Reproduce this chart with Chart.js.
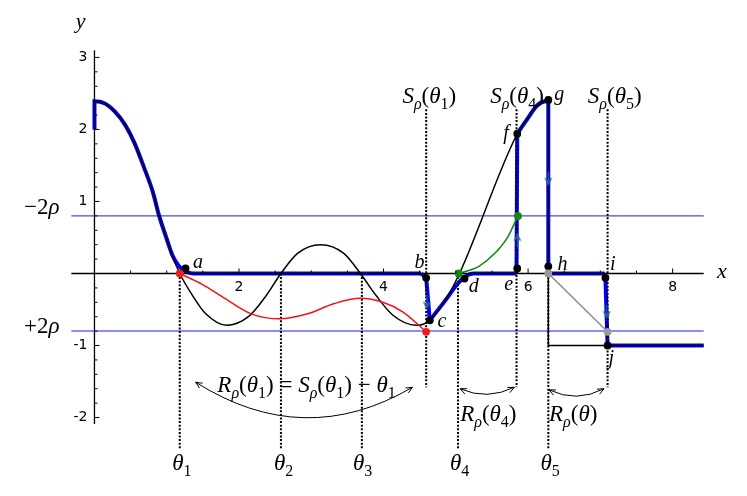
<!DOCTYPE html>
<html>
<head>
<meta charset="utf-8">
<script src="https://cdn.jsdelivr.net/npm/chart.js@4.4.0/dist/chart.umd.min.js"></script>
<style>
  html, body { margin: 0; padding: 0; background: #fff; }
  #wrap { width: 747px; height: 496px; }
</style>
</head>
<body>
<div id="wrap"><canvas id="chart"></canvas></div>
<script>
// values, as [x, y]
const mainCurve = [[0, 2.40], [0.145, 2.36], [0.28, 2.25], [0.42, 2.07], [0.55, 1.82], [0.69, 1.46],
  [0.805, 1.14], [0.895, 0.80], [0.99, 0.51], [1.08, 0.24], [1.18, 0], [1.36, -0.31], [1.54, -0.56],
  [1.83, -0.72], [2.13, -0.60], [2.36, -0.33], [2.58, 0], [2.81, 0.28], [3.13, 0.40], [3.45, 0.28],
  [3.68, 0], [3.90, -0.31], [4.13, -0.58], [4.45, -0.72], [4.64, -0.65], [4.85, -0.38], [5.05, 0],
  [5.85, 1.94], [6.0, 2.16], [6.13, 2.34], [6.28, 2.41]];
const mainTail = [[6.28, 2.41], [6.28, -1.0], [8.43, -1.0]];
const redCurve = [[1.18, 0], [1.49, -0.15], [1.81, -0.35], [2.17, -0.56], [2.56, -0.63], [2.95, -0.56],
  [3.31, -0.42], [3.68, -0.345], [3.99, -0.40], [4.27, -0.535], [4.58, -0.80]];
const greenCurve = [[5.04, 0], [5.32, 0.10], [5.54, 0.28], [5.72, 0.51], [5.86, 0.80]];
const greyLine = [[6.28, 0], [7.10, -0.81]];

// the thick blue path, smooth and straight pieces
const blueStart = [[0, 2.0], [0, 2.39], [0.145, 2.36], [0.28, 2.25], [0.42, 2.07], [0.55, 1.82], [0.69, 1.46],
  [0.805, 1.14], [0.895, 0.80], [0.99, 0.51], [1.08, 0.25], [1.17, 0.10], [1.26, 0.03], [1.36, 0], [4.52, 0]];
const blueDrop = [[4.52, 0], [4.59, -0.06], [4.64, -0.65]];
const blueMid = [[4.64, -0.65], [4.85, -0.38], [5.02, -0.15], [5.12, -0.05], [5.25, 0], [5.84, 0]];
const blueRise = [[5.84, 0], [5.85, 1.94]];
const blueTop = [[5.85, 1.94], [6.0, 2.16], [6.13, 2.34], [6.28, 2.41]];
const blueEnd = [[6.28, 2.41], [6.28, 0], [7.04, 0], [7.07, -0.06], [7.10, -1.0], [8.43, -1.0]];

const rhoLevels = [0.8, -0.8];
const rhoNames = ['\u22122', '+2'];
const thetaX = [1.18, 2.58, 3.70, 5.03, 6.28];
const thetaNames = ['1', '2', '3', '4', '5'];
const sRhoX = [4.59, 5.84, 7.10];
const sRhoNames = ['1', '4', '5'];

const blackDots = [[1.26, 0.07], [4.59, -0.06], [4.64, -0.65], [5.12, -0.07], [5.85, 0.07], [5.85, 1.94],
  [6.28, 2.41], [6.28, 0.10], [7.07, -0.06], [7.10, -1.0]];
const dotNames = ['a', 'b', 'c', 'd', 'e', 'f', 'g', 'h', 'i', 'j'];
const redDots = [[1.18, 0], [4.59, -0.81]];
const greenDots = [[5.04, 0], [5.86, 0.80]];
const greyDots = [[6.28, 0], [7.10, -0.81]];
const arrowsDown = [[4.60, -0.40], [6.28, 1.32], [7.09, -0.53]];
const arrowsUp = [[5.85, 0.46]];

const xTickLabels = [2, 4, 6, 8];
const yTickLabels = [-2, -1, 1, 2, 3];

// view and axis extents
const X_VIEW = [-1.238, 8.960];
const Y_VIEW = [-3.020, 3.728];
const AXIS_X = [-0.32, 8.43];
const AXIS_Y = [-2.09, 3.1];
const THETA_BOTTOM = -2.43;
const S_TOP = 2.28, S_BOTTOM = -1.58;

const SERIF = '"Liberation Serif", "DejaVu Serif", serif';
const ARROW_BLUE = '#245f8c';
const MATH_SIZE = 23;

const xy = pts => pts.map(([x, y]) => ({x, y}));

function verticals(xs, top, bottom) {
  const out = [];
  xs.forEach(v => { out.push({x: v, y: top}, {x: v, y: bottom}, {x: v, y: null}); });
  return out;
}

function makeArrow(color) {
  const c = document.createElement('canvas');
  c.width = 9; c.height = 18;
  const g = c.getContext('2d');
  g.fillStyle = color;
  g.beginPath();
  g.moveTo(4.5, 1); g.lineTo(8.5, 10); g.lineTo(4.5, 7.5); g.lineTo(0.5, 10);
  g.closePath(); g.fill();
  g.fillRect(3.8, 7, 1.4, 9);
  return c;
}
const arrowImg = makeArrow(ARROW_BLUE);

function line(data, color, width, order, extra) {
  return Object.assign({
    data: data, showLine: true, borderColor: color, borderWidth: width,
    pointRadius: 0, fill: false, tension: 0, order: order, clip: false, spanGaps: false
  }, extra || {});
}
function dots(data, color, order) {
  return { data: xy(data), showLine: false, pointRadius: 3.9, pointBackgroundColor: color,
    pointBorderWidth: 0, order: order, clip: false };
}
const smooth = { cubicInterpolationMode: 'monotone' };

const datasets = [
  line([{x: AXIS_X[0], y: rhoLevels[0]}, {x: AXIS_X[1], y: rhoLevels[0]}], '#4b4be8', 1.2, 9),
  line([{x: AXIS_X[0], y: rhoLevels[1]}, {x: AXIS_X[1], y: rhoLevels[1]}], '#8c8cff', 2, 9),
  line(xy(blueStart), '#0000ff', 4, 7, smooth),
  line(xy(blueDrop), '#0000ff', 4, 7),
  line(xy(blueMid), '#0000ff', 4, 7, smooth),
  line(xy(blueRise), '#0000ff', 4, 7),
  line(xy(blueTop), '#0000ff', 4, 7, smooth),
  line(xy(blueEnd), '#0000ff', 4, 7),
  line(verticals(thetaX, 0, THETA_BOTTOM), '#000', 2, 6, {borderDash: [2, 1.6]}),
  line(verticals(sRhoX, S_TOP, S_BOTTOM), '#000', 2, 6, {borderDash: [2, 1.6]}),
  line(xy(mainCurve), '#000', 1.5, 5, smooth),
  line(xy(mainTail), '#000', 1.5, 5),
  line(xy(redCurve), '#f01414', 1.5, 4, smooth),
  line(xy(greenCurve), '#0c880c', 1.5, 4, smooth),
  line(xy(greyLine), '#8c8c8c', 1.5, 4),
  line([{x: AXIS_X[0], y: 0}, {x: AXIS_X[1], y: 0}, {x: 0, y: null}, {x: 0, y: AXIS_Y[0]}, {x: 0, y: AXIS_Y[1]}],
    '#000', 1.3, 3),
  { data: xy(arrowsDown), showLine: false, pointStyle: arrowImg, pointRotation: 180, order: 2, clip: false },
  { data: xy(arrowsUp), showLine: false, pointStyle: arrowImg, pointRotation: 0, order: 2, clip: false },
  dots(redDots, '#ee1c1c', 1),
  dots(greenDots, '#128a12', 1),
  dots(greyDots, '#9a9a9a', 1),
  dots(blackDots, '#000', 1)
];

// text drawn in pieces: i italic, r roman, s.. subscript
function partFont(style, size) {
  const sub = style[0] === 's';
  const it = style[style.length - 1] === 'i';
  return (it ? 'italic ' : '') + (sub ? Math.round(size * 0.68) : size) + 'px ' + SERIF;
}
function mathWidth(ctx, parts, size) {
  let w = 0;
  parts.forEach(([t, s]) => { ctx.font = partFont(s, size); w += ctx.measureText(t).width; });
  return w;
}
function drawMath(ctx, parts, x, y, size, align) {
  let cx = x;
  if (align === 'center') cx = x - mathWidth(ctx, parts, size) / 2;
  ctx.textAlign = 'left';
  ctx.textBaseline = 'alphabetic';
  parts.forEach(([t, s]) => {
    ctx.font = partFont(s, size);
    ctx.fillText(t, cx, y + (s[0] === 's' ? size * 0.25 : 0));
    cx += ctx.measureText(t).width;
  });
}
const sLabel = n => [['S', 'i'], ['\u03c1', 'si'], ['(', 'r'], ['\u03b8', 'i'], [n, 'sr'], [')', 'r']];
const rLabel = n => [['R', 'i'], ['\u03c1', 'si'], ['(', 'r'], ['\u03b8', 'i'], [n, 'sr'], [')', 'r']];

// where the annotation texts sit, in data units (left/centre, baseline)
const dotLabelPos = [[1.365, 0.078], [4.427, 0.078], [4.745, -0.739], [5.178, -0.263], [5.670, -0.231],
  [5.656, 1.864], [6.362, 2.408], [6.407, 0.045], [7.135, 0.045], [7.113, -1.252]];
const thetaLabelX = [1.075, 2.485, 3.577, 4.920, 6.171];
const sLabelX = [4.633, 5.847, 7.199];
const arcs = [
  [[1.40, -1.51], [2.90, -2.46], [4.40, -1.58]],
  [[5.06, -1.60], [5.43, -1.765], [5.81, -1.58]],
  [[6.29, -1.615], [6.67, -1.80], [7.05, -1.60]]
];

function arrowHead(ctx, tip, from) {
  const a = Math.atan2(tip[1] - from[1], tip[0] - from[0]);
  const L = 7, s = 0.42;
  ctx.beginPath();
  ctx.moveTo(tip[0] - L * Math.cos(a - s), tip[1] - L * Math.sin(a - s));
  ctx.lineTo(tip[0], tip[1]);
  ctx.lineTo(tip[0] - L * Math.cos(a + s), tip[1] - L * Math.sin(a + s));
  ctx.stroke();
}

const notes = {
  id: 'notes',
  afterDatasetsDraw(chart) {
    const ctx = chart.ctx;
    const sx = chart.scales.x, sy = chart.scales.y;
    const px = v => sx.getPixelForValue(v), py = v => sy.getPixelForValue(v);
    const x0 = px(0), y0 = py(0);
    ctx.save();
    ctx.strokeStyle = '#000';
    ctx.fillStyle = '#000';
    ctx.lineWidth = 1;

    // x ticks every 0.5 pointing up, y ticks every 0.2 pointing right
    ctx.beginPath();
    for (let k = 1; k * 0.5 < AXIS_X[1]; k++) {
      const len = k % 4 === 0 ? 5 : 3;
      ctx.moveTo(px(k * 0.5), y0); ctx.lineTo(px(k * 0.5), y0 - len);
    }
    for (let k = -10; k <= 15; k++) {
      if (k === 0) continue;
      const len = k % 5 === 0 ? 5 : 3;
      ctx.moveTo(x0, py(k * 0.2)); ctx.lineTo(x0 + len, py(k * 0.2));
    }
    ctx.stroke();

    ctx.font = '14px "DejaVu Sans", sans-serif';
    ctx.textBaseline = 'middle';
    ctx.textAlign = 'center';
    xTickLabels.forEach(v => ctx.fillText(String(v), px(v), y0 + 13.5));
    ctx.textAlign = 'right';
    yTickLabels.forEach(v => ctx.fillText(String(v), x0 - 7, py(v)));

    // axis names and rho levels
    drawMath(ctx, [['x', 'i']], px(8.614), py(-0.059), 22);
    drawMath(ctx, [['y', 'i']], px(-0.259), py(3.415), 22);
    rhoNames.forEach((n, i) => {
      drawMath(ctx, [[n, 'r'], ['\u03c1', 'i']], px(-0.975), py(rhoLevels[i] + 0.023 * (i === 0 ? 1 : -1)), MATH_SIZE);
    });

    // point letters
    dotNames.forEach((n, i) => drawMath(ctx, [[n, 'i']], px(dotLabelPos[i][0]), py(dotLabelPos[i][1]), 20));

    // theta and S labels
    thetaNames.forEach((n, i) => drawMath(ctx, [['\u03b8', 'i'], [n, 'sr']], px(thetaLabelX[i]), py(-2.735), MATH_SIZE));
    sRhoNames.forEach((n, i) => drawMath(ctx, sLabel(n), px(sLabelX[i]), py(2.367), MATH_SIZE, 'center'));

    drawMath(ctx, rLabel('1').concat([[' = ', 'r']], sLabel('1'), [[' \u2212 ', 'r'], ['\u03b8', 'i'], ['1', 'sr']]),
      px(1.70), py(-1.646), MATH_SIZE);
    drawMath(ctx, rLabel('4'), px(5.06), py(-2.054), MATH_SIZE);
    drawMath(ctx, [['R', 'i'], ['\u03c1', 'si'], ['(', 'r'], ['\u03b8', 'i'], [')', 'r']], px(6.29), py(-2.054), MATH_SIZE);

    // double headed arcs
    ctx.lineWidth = 1;
    arcs.forEach(([a, c, b]) => {
      const A = [px(a[0]), py(a[1])], C = [px(c[0]), py(c[1])], B = [px(b[0]), py(b[1])];
      ctx.beginPath();
      ctx.moveTo(A[0], A[1]);
      ctx.quadraticCurveTo(C[0], C[1], B[0], B[1]);
      ctx.stroke();
      arrowHead(ctx, A, C);
      arrowHead(ctx, B, C);
    });
    ctx.restore();
  }
};

new Chart(document.getElementById('chart').getContext('2d'), {
  type: 'scatter',
  data: { datasets: datasets },
  options: {
    responsive: true,
    maintainAspectRatio: false,
    animation: false,
    events: [],
    layout: { padding: 0 },
    plugins: { legend: { display: false }, tooltip: { enabled: false } },
    scales: {
      x: { type: 'linear', min: X_VIEW[0], max: X_VIEW[1], display: false },
      y: { type: 'linear', min: Y_VIEW[0], max: Y_VIEW[1], display: false }
    }
  },
  plugins: [notes]
});
</script>
</body>
</html>
